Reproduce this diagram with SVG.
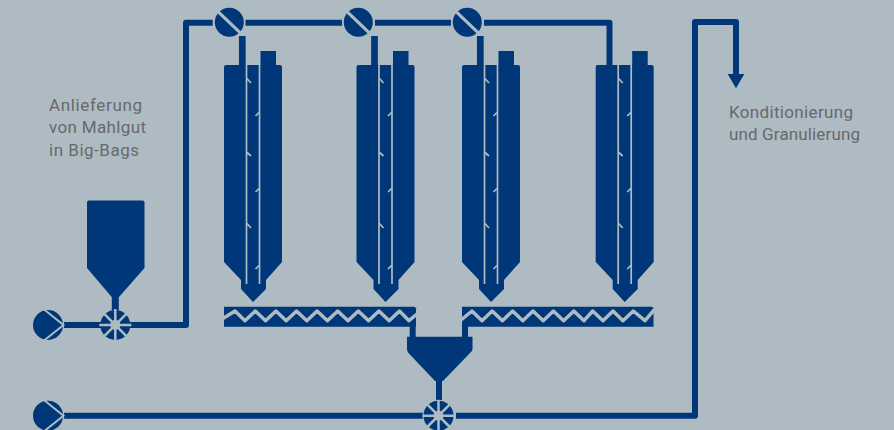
<svg xmlns="http://www.w3.org/2000/svg" xmlns:xlink="http://www.w3.org/1999/xlink" width="894" height="430" viewBox="0 0 894 430">
<style>
.d{fill:#003778}
.p{fill:none;stroke:#003778;stroke-width:6;stroke-linejoin:round}
.l{fill:none;stroke:#aebbc3;stroke-width:1.700}
.z{fill:none;stroke:#aebbc3;stroke-width:3.500;stroke-linejoin:round}
.s{stroke:#aebbc3;stroke-width:2.500}
.w{stroke:#aebbc3;stroke-width:2;fill:none}
text{font-family:"Roboto","Liberation Sans",sans-serif;font-size:17px;fill:#67696c}
</style>
<defs>
<g id="silo">
<path class="d" d="M0 2Q0 0 2 0H36.500V-14H52V0H56Q58 0 58 2V197L42 215V224L29 237L17 224V215L0 197Z"/>
<path class="l" d="M22.500 0V219M35.500 0V219M22.500 13L27 18M35.500 47L31.500 51M22.500 87L27 91M35.500 123L31.500 127M22.500 158L27 163M35.500 200L31.500 204"/>
</g>
<g id="flap"><circle class="d" r="14.500"/><path d="M-11 -10.500L11 10.500" stroke="#aebbc3" stroke-width="3.200"/></g>
<g id="pump"><circle class="d" r="15"/><path class="w" d="M-4.500 -16L15.500 0L-4.500 16"/></g>
<g id="star"><circle class="d" r="15"/><path class="s" d="M0 -16V16M-16 0H16M-11.300 -11.300L11.300 11.300M-11.300 11.300L11.300 -11.300"/><circle r="5" fill="#aebbc3"/></g>
</defs>
<rect width="894" height="430" fill="#aebbc3"/>
<g id="connectors">
<path class="p" d="M64 325H186V22.700H212.700"/>
<path class="p" d="M245.500 22.700H342M375 22.700H451M484 22.700H609.500V66"/>
<path class="p" style="stroke-width:6.700" d="M242.300 36V66M374.500 36V66M480.300 36V66"/>
<path class="p" d="M64 415.700H422.700M456 415.700H695V22H736V75"/>
<path class="p" d="M412.700 325V338M465 325V338"/>
<path class="p" style="stroke-width:7" d="M115.300 290V310"/>
<path class="p" d="M439 375V400"/>
<path class="d" d="M727.700 74H744.300L736 88.300Z"/>
</g>
<g id="silo-1"><use xlink:href="#silo" x="224" y="65"/></g>
<g id="silo-2"><use xlink:href="#silo" x="356.500" y="65"/></g>
<g id="silo-3"><use xlink:href="#silo" x="462" y="65"/></g>
<g id="silo-4"><use xlink:href="#silo" x="595.700" y="65"/></g>
<g id="valve-1"><use xlink:href="#flap" x="229.300" y="22.300"/></g>
<g id="valve-2"><use xlink:href="#flap" x="358.300" y="22.300"/></g>
<g id="valve-3"><use xlink:href="#flap" x="467.300" y="22.300"/></g>
<g id="pump-1"><use xlink:href="#pump" x="48" y="325"/></g>
<g id="pump-2"><use xlink:href="#pump" x="48" y="415.700"/></g>
<g id="star-1"><use xlink:href="#star" x="115.300" y="325"/></g>
<g id="star-2"><use xlink:href="#star" x="438.500" y="415.700"/></g>
<g id="hopper-1"><path class="d" d="M89 200.500H142.500Q144.500 200.500 144.500 202.500V268L119 297H111.700L87 268V202.500Q87 200.500 89 200.500Z"/></g>
<g id="hopper-2"><path class="d" d="M407 336.700H472.500V349Q472.500 351.500 470 353L443 381H435L408.500 353Q407 351.500 407 349Z"/></g>
<g id="conveyor-1">
<path class="d" d="M224 306.700H414.500L416 308.200V326.700H224Z"/>
<path class="z" d="M223 318.500L235 311L245 320.700L255.300 311L265.600 320.700L275.900 311L286.200 320.700L296.500 311L306.800 320.700L317.100 311L327.400 320.700L337.700 311L348 320.700L358.300 311L368.600 320.700L378.900 311L389.200 320.700L399.500 311L409 320.700L417 314"/>
</g>
<g id="conveyor-2">
<path class="d" d="M462 306.700H652L653.500 308.200V326.700H462Z"/>
<path class="z" d="M461 320L472 311L482 320.700L492.200 311L502.400 320.700L512.600 311L522.800 320.700L533 311L543.200 320.700L553.400 311L563.600 320.700L573.800 311L584 320.700L592.700 311L603 320.700L613 311L623 320.700L633.300 311L645 320.700L654.500 309.500"/>
</g>
<g id="labels">
<text x="49" y="111" textLength="93">Anlieferung</text>
<text x="49" y="133" textLength="97">von Mahlgut</text>
<text x="49" y="156" textLength="90">in Big-Bags</text>
<text x="729" y="118" textLength="124">Konditionierung</text>
<text x="729" y="140" textLength="131">und Granulierung</text>
</g>
</svg>
